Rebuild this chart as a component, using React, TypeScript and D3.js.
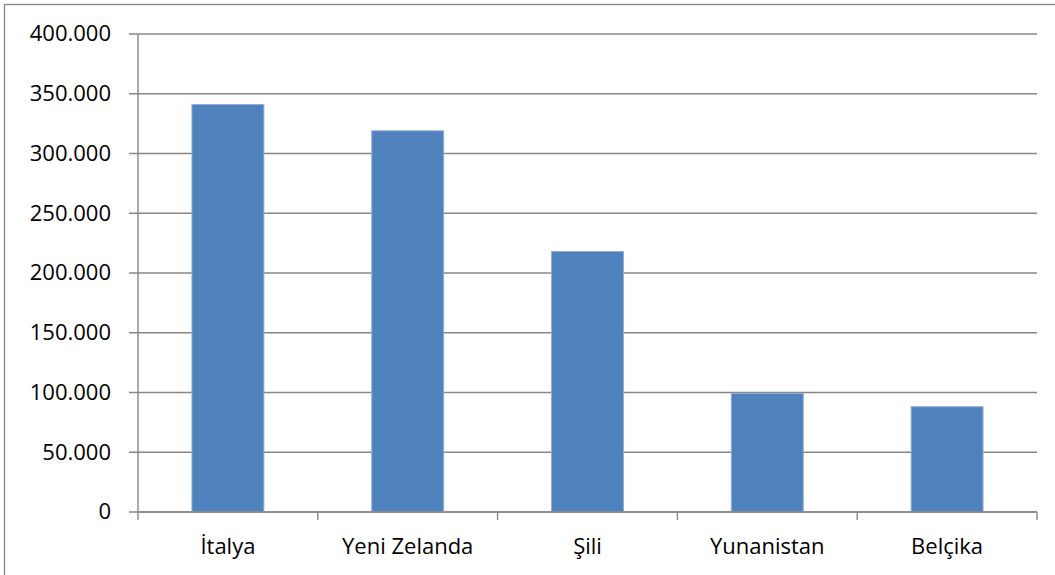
import React, { useEffect, useRef } from "react";
import * as d3 from "d3";

const countries = ["İtalya", "Yeni Zelanda", "Şili", "Yunanistan", "Belçika"];
const values = [341000, 319000, 218000, 99300, 88100];
const yTicks = [0, 50000, 100000, 150000, 200000, 250000, 300000, 350000, 400000];

const W = 1055;
const H = 575;

export default function App() {
  const ref = useRef<SVGSVGElement>(null);

  useEffect(() => {
    const svg = d3.select(ref.current);
    svg.selectAll("*").remove();

    const margin = { top: 34, left: 138, bottom: 63, right: 18 };
    const width = W - margin.left - margin.right;
    const height = H - margin.top - margin.bottom;
    const font = "'Open Sans', sans-serif";

    // outer chart border (runs off the right/bottom edge)
    svg
      .append("rect")
      .attr("x", 4.5)
      .attr("y", 4.5)
      .attr("width", W + 10)
      .attr("height", H + 10)
      .attr("fill", "white")
      .attr("stroke", "#878787")
      .attr("stroke-width", 1.3);

    const g = svg.append("g").attr("transform", `translate(${margin.left},${margin.top})`);

    const x = d3.scaleBand().domain(countries).range([0, width]).paddingInner(0.6).paddingOuter(0.3);
    const y = d3.scaleLinear().domain([0, 400000]).range([height, 0]);
    const fmt = (d: number) => (d === 0 ? "0" : d3.format(",")(d).replace(/,/g, "."));

    // gridlines + y ticks
    g.selectAll(".grid")
      .data(yTicks)
      .join("line")
      .attr("x1", -9)
      .attr("x2", width)
      .attr("y1", (d) => y(d))
      .attr("y2", (d) => y(d))
      .attr("stroke", "#878787")
      .attr("stroke-width", 1.4);

    g.selectAll(".ylab")
      .data(yTicks)
      .join("text")
      .attr("x", -27)
      .attr("y", (d) => y(d))
      .attr("dy", "0.34em")
      .attr("text-anchor", "end")
      .attr("font-family", font)
      .attr("font-size", 22)
      .attr("fill", "#000")
      .text(fmt);

    // bars
    g.selectAll(".bar")
      .data(values)
      .join("rect")
      .attr("x", (_, i) => x(countries[i])!)
      .attr("y", (d) => y(d))
      .attr("width", x.bandwidth())
      .attr("height", (d) => height - y(d))
      .attr("fill", "#4F81BD")
      .attr("stroke", "#8FAFD9")
      .attr("stroke-width", 1);

    // y axis line
    g.append("line")
      .attr("x1", 0)
      .attr("x2", 0)
      .attr("y1", 0)
      .attr("y2", height)
      .attr("stroke", "#878787")
      .attr("stroke-width", 1.4);

    // x axis line and category ticks
    g.append("line")
      .attr("x1", 0)
      .attr("x2", width)
      .attr("y1", height)
      .attr("y2", height)
      .attr("stroke", "#878787")
      .attr("stroke-width", 1.4);

    const step = width / countries.length;
    g.selectAll(".xtick")
      .data(d3.range(countries.length + 1))
      .join("line")
      .attr("x1", (i) => i * step)
      .attr("x2", (i) => i * step)
      .attr("y1", height)
      .attr("y2", height + 8)
      .attr("stroke", "#878787")
      .attr("stroke-width", 1.4);

    g.selectAll(".xlab")
      .data(countries)
      .join("text")
      .attr("x", (d) => x(d)! + x.bandwidth() / 2)
      .attr("y", height + 42)
      .attr("text-anchor", "middle")
      .attr("font-family", font)
      .attr("font-size", 22)
      .attr("fill", "#000")
      .text((d) => d);
  }, []);

  return (
    <svg
      ref={ref}
      width={W}
      height={H}
      style={{ position: "absolute", left: 0, top: 0, background: "white" }}
    />
  );
}
